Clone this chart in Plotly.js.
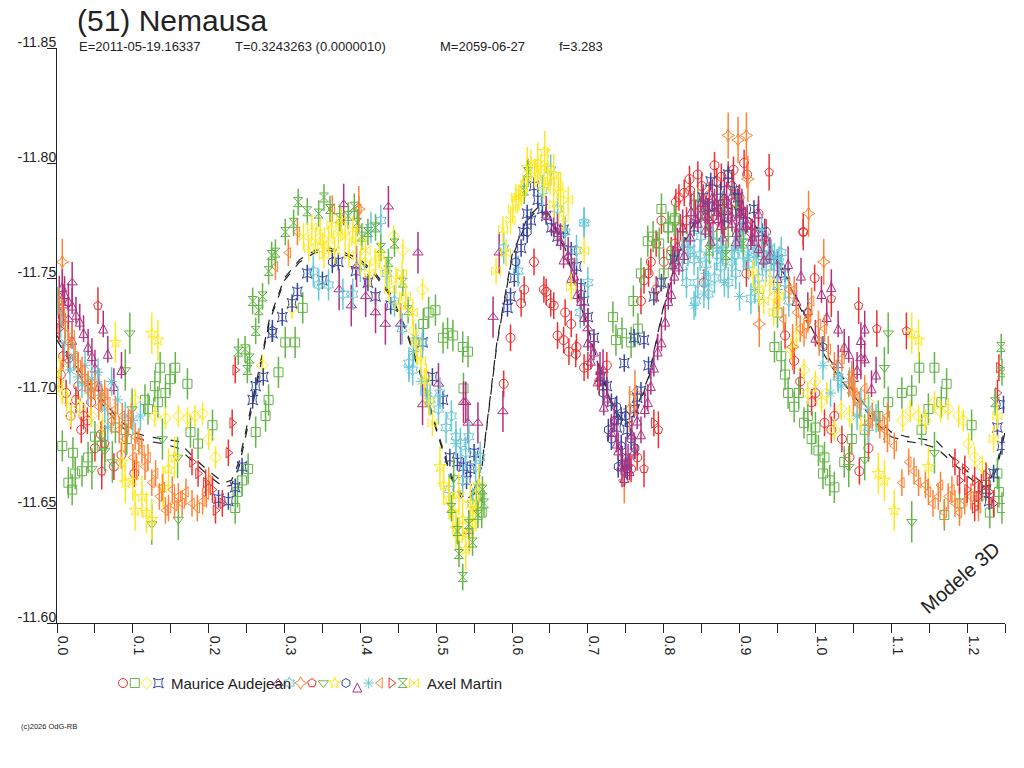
<!DOCTYPE html>
<html><head><meta charset="utf-8">
<script src="https://cdn.plot.ly/plotly-3.0.1.min.js"></script>
<style>html,body{margin:0;padding:0;background:#fff}#chart{width:1024px;height:768px}</style>
</head><body><div id="chart"></div>
<script>
// ---------- tick labels ----------
const X_TICKS = [0,0.05,0.1,0.15,0.2,0.25,0.3,0.35,0.4,0.45,0.5,0.55,0.6,0.65,0.7,0.75,0.8,0.85,0.9,0.95,1.0,1.05,1.1,1.15,1.2,1.25];
const X_TICK_TEXT = ['0.0','','0.1','','0.2','','0.3','','0.4','','0.5','','0.6','','0.7','','0.8','','0.9','','1.0','','1.1','','1.2',''];
const Y_TICKS = [-11.85,-11.80,-11.75,-11.70,-11.65,-11.60];
const Y_TICK_TEXT = ['-11.85','-11.80','-11.75','-11.70','-11.65','-11.60'];

// ---------- model (two dashed curves) ----------
const MODEL_X = [0.00,0.02,0.04,0.06,0.08,0.10,0.12,0.14,0.16,0.18,0.20,0.22,0.23,0.24,0.26,0.28,0.30,0.32,0.34,0.36,0.38,0.40,0.42,0.44,0.46,0.48,0.50,0.52,0.535,0.55,0.56,0.58,0.60,0.62,0.635,0.65,0.67,0.69,0.71,0.73,0.745,0.76,0.78,0.80,0.82,0.84,0.86,0.88,0.90,0.92,0.94,0.96,0.98,1.00,1.02,1.04,1.06,1.08,1.10,1.12,1.14,1.16,1.18,1.20,1.22,1.23,1.24,1.25];
const MODEL_A = [-11.725,-11.714,-11.705,-11.697,-11.689,-11.683,-11.681,-11.680,-11.679,-11.672,-11.666,-11.661,-11.662,-11.670,-11.700,-11.732,-11.750,-11.758,-11.762,-11.763,-11.761,-11.758,-11.752,-11.743,-11.728,-11.708,-11.685,-11.664,-11.655,-11.658,-11.668,-11.722,-11.760,-11.776,-11.781,-11.777,-11.763,-11.740,-11.717,-11.697,-11.688,-11.690,-11.707,-11.738,-11.762,-11.774,-11.780,-11.782,-11.780,-11.774,-11.764,-11.752,-11.738,-11.725,-11.714,-11.705,-11.697,-11.689,-11.683,-11.681,-11.680,-11.679,-11.672,-11.666,-11.661,-11.662,-11.670,-11.685];
const MODEL_B = [-11.723,-11.712,-11.703,-11.695,-11.687,-11.681,-11.679,-11.678,-11.676,-11.670,-11.664,-11.659,-11.660,-11.668,-11.698,-11.731,-11.749,-11.757,-11.761,-11.762,-11.760,-11.757,-11.751,-11.742,-11.727,-11.707,-11.684,-11.663,-11.653,-11.656,-11.667,-11.721,-11.759,-11.775,-11.780,-11.776,-11.762,-11.739,-11.716,-11.696,-11.686,-11.688,-11.706,-11.737,-11.761,-11.773,-11.779,-11.781,-11.779,-11.773,-11.763,-11.751,-11.737,-11.723,-11.712,-11.703,-11.695,-11.687,-11.681,-11.679,-11.678,-11.676,-11.670,-11.664,-11.659,-11.660,-11.668,-11.683];

// ---------- observations (phase, reduced magnitude) ----------
const S01_X = [0.005,0.012,0.018,0.025,0.032,0.040,0.050,0.058,0.075,0.085,0.102,0.645,0.655,0.660,0.670,0.675,0.685,0.700,0.715,0.725,0.770,0.780,0.790,0.800,0.810,0.830,0.840,0.850,0.860,0.870,0.875,0.885,0.895,0.905,0.915,0.930,0.972,0.995,1.012,1.025,1.021,1.058,
  0.008,0.015,0.028,0.035,0.045,0.589,0.598,0.612,0.629,0.616,0.642,0.651,0.668,0.684,0.695,0.678,0.757,0.765,0.815,0.822,0.835,0.845,0.855,0.865,0.880,0.890,0.900,0.910,0.925,0.935,0.960,0.980,1.000,1.035,1.045,1.070,
  0.834,0.820,0.827,0.797,0.816,0.867,0.876,0.892,0.906,0.783,0.790,0.774,0.853,0.909,0.984,0.999];
const S01_Y = [-11.708,-11.700,-11.690,-11.697,-11.684,-11.688,-11.676,-11.682,-11.668,-11.673,-11.665,-11.744,-11.738,-11.725,-11.735,-11.718,-11.720,-11.712,-11.705,-11.712,-11.740,-11.752,-11.745,-11.757,-11.762,-11.775,-11.782,-11.790,-11.786,-11.792,-11.780,-11.795,-11.783,-11.778,-11.770,-11.765,-11.714,-11.696,-11.687,-11.690,-11.684,-11.666,
  -11.716,-11.715,-11.703,-11.690,-11.696,-11.704,-11.724,-11.739,-11.757,-11.745,-11.745,-11.739,-11.723,-11.717,-11.711,-11.730,-11.667,-11.672,-11.765,-11.772,-11.788,-11.795,-11.780,-11.772,-11.773,-11.790,-11.785,-11.795,-11.778,-11.770,-11.725,-11.705,-11.700,-11.680,-11.672,-11.676,
  -11.793,-11.785,-11.787,-11.775,-11.783,-11.799,-11.794,-11.797,-11.800,-11.757,-11.765,-11.749,-11.748,-11.752,-11.770,-11.750];

const S02_X = [0.007,0.015,0.020,0.021,0.024,0.033,0.041,0.050,0.059,0.077,0.092,0.116,0.120,0.129,0.133,0.136,0.143,0.149,0.156,0.172,0.176,0.186,0.205,0.235,0.238,0.244,0.252,0.262,0.275,0.279,0.292,0.301,0.314,0.324,0.499,0.509,0.515,0.522,0.535,0.542,0.733,0.737,0.745,0.757,0.766,0.779,0.794,0.806,0.814,0.946,0.955,0.964,0.972,0.985,0.995,1.004,1.012,1.019,1.025,1.038,1.048,1.065,1.083,1.096,1.114,1.127,1.137,1.140,1.149,1.157,1.166,1.170,1.173,1.190,1.206,1.215,1.242,1.246,
  0.553,0.560,0.800,0.810,0.825,0.860,0.870,0.885,0.930,0.950,0.960,0.978,0.990,1.000,1.010,1.225,1.230,1.240,
  0.797,0.806,0.815,0.786,0.770,0.760,0.845,0.857,0.878,0.896,0.483,0.490,0.536];
const S02_Y = [-11.677,-11.661,-11.658,-11.674,-11.665,-11.666,-11.672,-11.681,-11.677,-11.685,-11.680,-11.697,-11.693,-11.703,-11.696,-11.711,-11.700,-11.706,-11.711,-11.704,-11.683,-11.678,-11.686,-11.650,-11.657,-11.662,-11.667,-11.683,-11.690,-11.697,-11.709,-11.722,-11.722,-11.737,-11.736,-11.724,-11.726,-11.725,-11.720,-11.718,-11.733,-11.723,-11.726,-11.722,-11.728,-11.766,-11.765,-11.772,-11.775,-11.720,-11.716,-11.700,-11.694,-11.687,-11.680,-11.675,-11.672,-11.662,-11.659,-11.670,-11.680,-11.684,-11.690,-11.696,-11.700,-11.701,-11.711,-11.684,-11.693,-11.711,-11.696,-11.647,-11.704,-11.652,-11.686,-11.655,-11.657,-11.650,
  -11.655,-11.648,-11.752,-11.760,-11.768,-11.770,-11.765,-11.770,-11.760,-11.735,-11.708,-11.700,-11.690,-11.685,-11.665,-11.660,-11.648,-11.665,
  -11.780,-11.772,-11.776,-11.768,-11.752,-11.740,-11.782,-11.777,-11.781,-11.779,-11.730,-11.735,-11.702];

const S03_X = [0.007,0.013,0.103,0.129,0.143,0.160,0.172,0.182,0.192,0.200,0.209,0.271,0.310,0.444,0.456,0.482,0.946,0.968,1.008,1.025,1.034,1.070,1.136,1.157,1.175,1.189,1.202,1.210,
  0.002,0.004,0.018,0.030,0.045,0.060,0.470,0.475,0.487,0.975,0.985,0.990,1.000,1.015,1.045,1.060,1.115,1.125,1.145,1.165,1.195,1.220];
const S03_Y = [-11.700,-11.697,-11.697,-11.690,-11.689,-11.690,-11.689,-11.690,-11.691,-11.680,-11.672,-11.712,-11.737,-11.768,-11.762,-11.745,-11.742,-11.719,-11.696,-11.684,-11.693,-11.696,-11.690,-11.696,-11.693,-11.690,-11.678,-11.672,
  -11.705,-11.712,-11.690,-11.694,-11.690,-11.686,-11.727,-11.717,-11.708,-11.725,-11.710,-11.700,-11.705,-11.700,-11.690,-11.688,-11.688,-11.692,-11.688,-11.692,-11.688,-11.668];

const S04_X = [0.213,0.226,0.235,0.244,0.258,0.262,0.272,0.284,0.297,0.310,0.317,0.371,0.394,0.482,0.495,0.509,0.528,0.536,0.550,0.594,0.598,0.612,0.625,0.629,0.634,0.668,0.678,0.691,0.700,0.708,0.717,0.731,0.744,0.748,0.761,0.761,0.770,0.774,0.787,0.797,0.814,0.859,0.893,0.919,1.229,1.246,
  0.330,0.350,0.410,0.420,0.440,0.518,0.540,0.545,0.603,0.615,0.620,0.640,0.645,0.652,0.660,0.685,0.695,0.725,0.738,0.752,0.765,0.780,0.840,0.870,0.880,0.905,0.930,0.950,0.960,1.225,1.235,1.240,1.248,
  0.862,0.875,0.885,0.852,0.898,0.900];
const S04_Y = [-11.654,-11.653,-11.659,-11.668,-11.697,-11.703,-11.707,-11.726,-11.733,-11.739,-11.744,-11.757,-11.753,-11.722,-11.707,-11.697,-11.670,-11.668,-11.674,-11.737,-11.742,-11.763,-11.775,-11.790,-11.784,-11.771,-11.762,-11.746,-11.733,-11.724,-11.707,-11.696,-11.690,-11.713,-11.693,-11.724,-11.701,-11.723,-11.742,-11.748,-11.758,-11.781,-11.788,-11.780,-11.653,-11.677,
  -11.752,-11.749,-11.748,-11.742,-11.738,-11.672,-11.662,-11.667,-11.750,-11.770,-11.778,-11.780,-11.777,-11.772,-11.768,-11.755,-11.740,-11.703,-11.685,-11.684,-11.698,-11.712,-11.772,-11.782,-11.776,-11.772,-11.770,-11.758,-11.752,-11.658,-11.665,-11.685,-11.695,
  -11.792,-11.788,-11.795,-11.785,-11.785,-11.778];

const S05_X = [0.003,0.008,0.015,0.020,0.378,0.407,0.420,0.433,0.437,0.453,0.476,0.482,0.503,0.539,0.575,0.583,0.588,0.700,0.720,0.745,0.750,0.860,0.880,0.900,1.030,1.050,1.060,0.395,0.372,0.388,0.543,0.555,0.542,0.536];
const S05_Y = [-11.742,-11.738,-11.732,-11.748,-11.782,-11.742,-11.735,-11.730,-11.781,-11.730,-11.761,-11.695,-11.704,-11.696,-11.733,-11.761,-11.692,-11.728,-11.710,-11.668,-11.672,-11.775,-11.785,-11.772,-11.712,-11.706,-11.715,-11.755,-11.745,-11.738,-11.640,-11.687,-11.687,-11.696];

const S06_X = [0.338,0.345,0.358,0.377,0.390,0.414,0.427,0.464,0.469,0.482,0.503,0.513,0.517,0.526,0.539,0.543,0.548,0.556,0.589,0.608,0.651,0.695,0.700,0.832,0.849,0.859,0.867,0.885,0.902,0.915,0.919,0.938,0.955,1.030,1.070,
  0.400,0.435,0.445,0.455,0.492,0.505,0.520,0.532,0.552,0.558,0.535,0.640,0.660,0.670,0.685,0.690,0.825,0.840,0.845,0.870,0.875,0.895,0.905,0.925,0.930,0.945,0.960,0.965,
  0.825,0.835,0.848,0.856,0.865,0.878,0.890,0.898,0.912,0.922,0.935,0.942,0.952,0.830,0.842,0.925];
const S06_Y = [-11.753,-11.747,-11.747,-11.743,-11.743,-11.772,-11.775,-11.713,-11.710,-11.722,-11.693,-11.685,-11.658,-11.681,-11.674,-11.681,-11.652,-11.659,-11.763,-11.753,-11.797,-11.774,-11.748,-11.762,-11.768,-11.743,-11.750,-11.748,-11.768,-11.741,-11.761,-11.763,-11.761,-11.707,-11.685,
  -11.755,-11.752,-11.740,-11.728,-11.697,-11.700,-11.690,-11.678,-11.668,-11.672,-11.662,-11.788,-11.780,-11.770,-11.762,-11.735,-11.755,-11.758,-11.748,-11.760,-11.755,-11.752,-11.760,-11.750,-11.758,-11.752,-11.748,-11.740,
  -11.762,-11.765,-11.760,-11.756,-11.766,-11.762,-11.757,-11.765,-11.756,-11.762,-11.755,-11.760,-11.757,-11.748,-11.740,-11.742];

const S07_X = [0.007,0.398,0.885,0.898,0.909,0.911,0.926,0.970,0.991,1.011,1.050,0.755,0.762,0.748];
const S07_Y = [-11.757,-11.780,-11.812,-11.810,-11.812,-11.793,-11.730,-11.720,-11.778,-11.757,-11.700,-11.693,-11.700,-11.662];

const S08_X = [0.054,0.059,0.063,0.774,0.793,0.939,0.984,1.021,1.057,1.081,1.120];
const S08_Y = [-11.738,-11.666,-11.678,-11.667,-11.684,-11.796,-11.770,-11.741,-11.738,-11.728,-11.727];

const S09_X = [0.046,0.063,0.073,0.090,0.096,0.099,0.125,0.139,0.159,0.160,0.523,1.044,1.065,1.091,1.096,1.127,1.157];
const S09_Y = [-11.667,-11.675,-11.670,-11.710,-11.726,-11.693,-11.643,-11.680,-11.672,-11.645,-11.663,-11.668,-11.671,-11.711,-11.726,-11.644,-11.674];

const S10_X = [0.077,0.086,0.090,0.103,0.125,0.125,0.133,0.147,0.517,0.530,0.535,0.539,0.543,0.552,0.634,0.647,0.664,1.083,1.091,1.104,1.127,1.136,1.149,
  0.100,0.112,0.118,0.140,0.155,0.505,0.510,0.522,0.526,0.545,0.548,0.556,0.530,0.620,0.643,0.655];
const S10_Y = [-11.722,-11.670,-11.661,-11.649,-11.726,-11.645,-11.723,-11.667,-11.654,-11.637,-11.645,-11.632,-11.639,-11.649,-11.800,-11.798,-11.787,-11.665,-11.662,-11.649,-11.726,-11.723,-11.668,
  -11.662,-11.655,-11.648,-11.659,-11.672,-11.668,-11.660,-11.648,-11.641,-11.652,-11.643,-11.660,-11.656,-11.798,-11.805,-11.795];

const S11_X = [0.284,0.363,0.605,0.620,0.727,0.731,0.744,0.745,0.750,0.757,0.990,1.010,0.720,0.735,0.740,0.752,0.762,0.738];
const S11_Y = [-11.727,-11.757,-11.757,-11.770,-11.684,-11.680,-11.677,-11.672,-11.690,-11.680,-11.735,-11.720,-11.700,-11.688,-11.668,-11.667,-11.676,-11.694];

const S12_X = [0.007,0.015,0.025,0.035,0.041,0.046,0.061,0.067,0.655,0.664,0.674,0.682,0.691,0.700,0.704,0.713,0.721,0.731,0.740,0.744,0.753,0.761,0.770,0.779,0.787,0.797,0.806,0.814,0.827,0.849,0.867,0.885,0.902,0.925,0.933,0.964,0.981,1.008,1.021,1.030,1.044,1.065,1.065,1.074,
  0.002,0.010,0.020,0.030,0.050,0.055,0.075,0.085,0.020,0.645,0.660,0.668,0.678,0.686,0.695,0.708,0.716,0.726,0.735,0.738,0.748,0.755,0.758,0.765,0.775,0.783,0.792,0.802,0.810,0.820,0.835,0.842,0.855,0.862,0.872,0.878,0.890,0.895,0.908,0.915,0.920,0.940,0.950,0.975,0.990,1.000,1.015,1.038,1.055,1.060,1.080,
  0.836,0.845,0.852,0.858,0.864,0.870,0.876,0.883,0.889,0.896,0.903,0.910,0.917,0.925,0.932,0.825,0.818,0.812];
const S12_Y = [-11.748,-11.742,-11.736,-11.728,-11.722,-11.718,-11.730,-11.719,-11.774,-11.768,-11.762,-11.753,-11.742,-11.724,-11.716,-11.707,-11.696,-11.685,-11.677,-11.670,-11.672,-11.677,-11.684,-11.698,-11.713,-11.724,-11.742,-11.753,-11.762,-11.780,-11.783,-11.780,-11.781,-11.780,-11.770,-11.758,-11.753,-11.745,-11.748,-11.730,-11.719,-11.717,-11.730,-11.704,
  -11.738,-11.745,-11.740,-11.733,-11.713,-11.705,-11.705,-11.712,-11.725,-11.780,-11.772,-11.760,-11.752,-11.745,-11.735,-11.720,-11.712,-11.700,-11.690,-11.680,-11.665,-11.668,-11.684,-11.690,-11.695,-11.705,-11.720,-11.733,-11.745,-11.757,-11.770,-11.778,-11.773,-11.768,-11.778,-11.770,-11.776,-11.768,-11.775,-11.768,-11.772,-11.762,-11.752,-11.742,-11.738,-11.726,-11.735,-11.722,-11.712,-11.725,-11.710,
  -11.781,-11.776,-11.785,-11.779,-11.787,-11.781,-11.775,-11.786,-11.779,-11.772,-11.783,-11.776,-11.770,-11.765,-11.760,-11.774,-11.766,-11.758];

const S13_X = [0.001,0.017,0.028,0.033,0.041,0.054,0.063,0.067,0.464,0.473,0.526,0.695,0.853,0.859,0.876,0.893,0.911,0.929,0.946,1.030,1.034,1.070,
  0.005,0.010,0.022,0.037,0.046,0.058,0.072,0.080,0.090,0.100,0.110,0.470,0.480,0.488,0.840,0.855,0.880,0.900,0.920,0.950,1.010,1.020,1.045,1.055,1.060,1.080];
const S13_Y = [-11.740,-11.710,-11.707,-11.704,-11.701,-11.709,-11.693,-11.685,-11.711,-11.724,-11.678,-11.774,-11.743,-11.747,-11.763,-11.762,-11.759,-11.771,-11.759,-11.707,-11.703,-11.693,
  -11.730,-11.722,-11.716,-11.712,-11.706,-11.699,-11.705,-11.697,-11.690,-11.688,-11.690,-11.718,-11.705,-11.700,-11.738,-11.752,-11.748,-11.742,-11.745,-11.745,-11.712,-11.700,-11.705,-11.690,-11.696,-11.689];

const S14_X = [0.007,0.011,0.015,0.024,0.033,0.041,0.050,0.059,0.067,0.077,0.086,0.094,0.103,0.112,0.116,0.125,0.139,0.143,0.147,0.152,0.160,0.165,0.178,0.192,0.288,0.305,0.317,0.363,0.398,0.991,1.004,1.017,1.044,1.052,1.070,1.091,1.104,1.114,1.123,1.136,1.149,1.162,1.170,1.175,1.184,1.197,
  0.003,0.020,0.028,0.037,0.045,0.055,0.063,0.072,0.082,0.090,0.098,0.100,0.105,0.108,0.120,0.130,0.135,0.155,0.170,0.185,0.197,0.200,0.965,0.975,0.985,0.995,1.005,1.012,1.025,1.035,1.048,1.058,1.065,1.075,1.085,1.095,1.095,1.130,1.145,1.155,1.165,1.180,1.190,1.205,1.215,
  0.950,0.958,0.972,0.980,0.990];
const S14_Y = [-11.735,-11.729,-11.722,-11.716,-11.710,-11.704,-11.703,-11.698,-11.696,-11.693,-11.690,-11.687,-11.681,-11.675,-11.668,-11.661,-11.659,-11.649,-11.650,-11.658,-11.655,-11.652,-11.652,-11.653,-11.755,-11.761,-11.770,-11.780,-11.780,-11.733,-11.730,-11.719,-11.704,-11.700,-11.687,-11.684,-11.677,-11.661,-11.670,-11.661,-11.657,-11.655,-11.648,-11.655,-11.652,-11.653,
  -11.740,-11.725,-11.712,-11.706,-11.700,-11.694,-11.700,-11.688,-11.684,-11.680,-11.690,-11.672,-11.668,-11.679,-11.672,-11.665,-11.655,-11.651,-11.657,-11.650,-11.656,-11.662,-11.745,-11.735,-11.726,-11.740,-11.722,-11.728,-11.712,-11.715,-11.708,-11.695,-11.702,-11.690,-11.686,-11.680,-11.690,-11.666,-11.660,-11.652,-11.660,-11.658,-11.648,-11.655,-11.650,
  -11.740,-11.732,-11.745,-11.728,-11.732];

const S15_X = [0.003,0.178,0.186,0.196,0.205,0.209,0.218,0.226,0.231,0.235,0.787,1.184,1.197,1.210,1.210,1.219,1.229,1.242,1.190,1.200,1.215,1.225,1.235,1.240];
const S15_Y = [-11.728,-11.670,-11.665,-11.661,-11.658,-11.649,-11.652,-11.674,-11.687,-11.710,-11.687,-11.670,-11.667,-11.662,-11.650,-11.659,-11.657,-11.711,-11.662,-11.658,-11.655,-11.664,-11.652,-11.700];

const S16_X = [0.239,0.248,0.251,0.266,0.271,0.279,0.288,0.301,0.312,0.345,0.384,0.396,0.420,0.427,0.530,0.535,0.543,0.561,0.563,0.616,0.621,1.237,1.246,
  0.318,0.330,0.352,0.360,0.373,0.392,0.402,0.410,0.437,0.445,0.456,0.463,0.258,0.262,0.254,0.283,0.520,0.528,0.548,0.555,0.860,0.882,0.905,1.245];
const S16_Y = [-11.718,-11.719,-11.710,-11.736,-11.742,-11.753,-11.761,-11.770,-11.774,-11.778,-11.777,-11.774,-11.772,-11.763,-11.630,-11.620,-11.643,-11.658,-11.652,-11.788,-11.796,-11.696,-11.709,
  -11.783,-11.779,-11.785,-11.780,-11.776,-11.781,-11.768,-11.770,-11.757,-11.765,-11.748,-11.736,-11.740,-11.727,-11.715,-11.760,-11.650,-11.640,-11.635,-11.647,-11.762,-11.760,-11.765,-11.720];

const S17_X = [0.332,0.341,0.350,0.358,0.371,0.380,0.394,0.407,0.420,0.433,0.447,0.460,0.469,0.473,0.480,0.490,0.495,0.579,0.588,0.592,0.601,0.609,0.612,0.638,0.661,0.674,0.678,0.695,1.235,1.240,
  0.325,0.336,0.347,0.352,0.362,0.366,0.375,0.385,0.390,0.400,0.412,0.425,0.438,0.452,0.455,0.485,0.598,0.605,0.620,0.625,0.630,0.642,0.650,0.655,0.668,
  0.918,0.925,0.932,0.940,0.945,0.952];
const S17_Y = [-11.763,-11.766,-11.764,-11.767,-11.769,-11.768,-11.766,-11.762,-11.757,-11.753,-11.749,-11.742,-11.735,-11.722,-11.714,-11.696,-11.687,-11.753,-11.771,-11.761,-11.780,-11.785,-11.787,-11.798,-11.790,-11.784,-11.746,-11.762,-11.680,-11.690,
  -11.768,-11.772,-11.770,-11.760,-11.773,-11.762,-11.775,-11.760,-11.771,-11.757,-11.752,-11.760,-11.745,-11.738,-11.752,-11.705,-11.775,-11.785,-11.793,-11.800,-11.795,-11.790,-11.792,-11.782,-11.776,
  -11.752,-11.745,-11.740,-11.748,-11.735,-11.742];

// observer groups (legend text)
const OBSERVERS = ['Maurice Audejean','Axel Martin'];

// ---------- styling ----------
const FONT = 'Liberation Sans, Arial, sans-serif';
const RED='#ee2f2f', GREEN='#62b546', YELLOW='#ffe81a', BLUE='#35459e', PURPLE='#b0307f', CYAN='#67c8d8', ORANGE='#ff8232';
const SERIES = [
  {x:S01_X,y:S01_Y,sym:'circle-open',c:RED,e:0.0058,g:0},
  {x:S02_X,y:S02_Y,sym:'square-open',c:GREEN,e:0.0068,g:0},
  {x:S03_X,y:S03_Y,sym:'diamond-open',c:YELLOW,e:0.0048,g:0},
  {x:S04_X,y:S04_Y,sym:'star-square-open',c:BLUE,e:0.0038,g:0},
  {x:S05_X,y:S05_Y,sym:'triangle-up-open',c:PURPLE,e:0.009,g:1},
  {x:S06_X,y:S06_Y,sym:'hexagram-open',c:CYAN,e:0.0068,g:1},
  {x:S07_X,y:S07_Y,sym:'star-diamond-open',c:ORANGE,e:0.010,g:1},
  {x:S08_X,y:S08_Y,sym:'pentagon-open',c:RED,e:0.008,g:1},
  {x:S09_X,y:S09_Y,sym:'triangle-down-open',c:GREEN,e:0.009,g:1},
  {x:S10_X,y:S10_Y,sym:'star-open',c:YELLOW,e:0.009,g:1},
  {x:S11_X,y:S11_Y,sym:'hexagon-open',c:BLUE,e:0.0048,g:1},
  {x:S12_X,y:S12_Y,sym:'arrow-up-open',c:PURPLE,e:0.0058,g:1},
  {x:S13_X,y:S13_Y,sym:'asterisk-open',c:CYAN,e:0.0062,g:1},
  {x:S14_X,y:S14_Y,sym:'triangle-left-open',c:ORANGE,e:0.0058,g:1},
  {x:S15_X,y:S15_Y,sym:'triangle-right-open',c:RED,e:0.0058,g:1},
  {x:S16_X,y:S16_Y,sym:'hourglass-open',c:GREEN,e:0.0058,g:1},
  {x:S17_X,y:S17_Y,sym:'bowtie-open',c:YELLOW,e:0.0058,g:1}
];

const traces = [];
traces.push({x:MODEL_X,y:MODEL_A,mode:'lines',line:{color:'#222',width:1.2,dash:'dash'},hoverinfo:'skip'});
traces.push({x:MODEL_X,y:MODEL_B,mode:'lines',line:{color:'#222',width:1.2,dash:'dash'},hoverinfo:'skip'});
SERIES.forEach(s=>{
  traces.push({x:s.x,y:s.y,mode:'markers',type:'scatter',
    marker:{symbol:s.sym,size:9,color:s.c,line:{color:s.c,width:1}},
    error_y:{type:'constant',value:s.e,thickness:1.5,width:0,color:s.c}});
});

// hand-made legend row on a hidden axis (pixel-like units)
const LEG_A0=123, LEG_A_STEP=11.8, LEG_B0=278, LEG_B_STEP=11.33;
let ia=0, ib=0;
SERIES.forEach(s=>{
  const lx = s.g===0 ? LEG_A0+LEG_A_STEP*(ia++) : LEG_B0+LEG_B_STEP*(ib++);
  traces.push({x:[lx],y:[0.5],xaxis:'x2',yaxis:'y2',mode:'markers',
    marker:{symbol:s.sym,size:9,color:s.c,line:{color:s.c,width:1}},hoverinfo:'skip'});
});

const PX = p => (p-57)/948;
const PY = p => (700-p)/652;

const layout = {
  width:1024,height:768,
  margin:{l:57,r:19,t:48,b:68,pad:0},
  paper_bgcolor:'#fff',plot_bgcolor:'#fff',
  showlegend:false,hovermode:false,
  font:{family:FONT,color:'#222',size:14},
  title:{text:'(51) Nemausa',xref:'container',yref:'container',x:77/1024,xanchor:'left',y:1-20/768,yanchor:'middle',
         font:{family:FONT,size:30,color:'#222'}},
  xaxis:{domain:[0,1],anchor:'y',range:[0,1.25],tickmode:'array',tickvals:X_TICKS,ticktext:X_TICK_TEXT,tickangle:90,
         ticks:'outside',ticklen:9,tickwidth:1,tickcolor:'#222',showline:true,linecolor:'#222',linewidth:1,
         showgrid:false,zeroline:false,ticklabelshift:6,tickfont:{family:FONT,size:14,color:'#222'}},
  yaxis:{domain:[77/652,1],anchor:'x',range:[-11.60,-11.85],tickmode:'array',tickvals:Y_TICKS,ticktext:Y_TICK_TEXT,
         ticks:'outside',ticklen:9,tickwidth:1,tickcolor:'#222',showline:true,linecolor:'#222',linewidth:1,
         showgrid:false,zeroline:false,ticklabelstandoff:-12,ticklabelshift:6,tickfont:{family:FONT,size:14,color:'#222'}},
  xaxis2:{domain:[0,1],anchor:'y2',range:[57,1005],visible:false,fixedrange:true},
  yaxis2:{domain:[0.006,0.046],anchor:'x2',range:[0,1],visible:false,fixedrange:true},
  annotations:[
    {xref:'paper',yref:'paper',x:PX(77),y:PY(47),xanchor:'left',yanchor:'middle',showarrow:false,text:'E=2011-05-19.16337',font:{size:13}},
    {xref:'paper',yref:'paper',x:PX(233),y:PY(47),xanchor:'left',yanchor:'middle',showarrow:false,text:'T=0.3243263 (0.0000010)',font:{size:13}},
    {xref:'paper',yref:'paper',x:PX(438),y:PY(47),xanchor:'left',yanchor:'middle',showarrow:false,text:'M=2059-06-27',font:{size:13}},
    {xref:'paper',yref:'paper',x:PX(557),y:PY(47),xanchor:'left',yanchor:'middle',showarrow:false,text:'f=3.283',font:{size:13}},
    {xref:'x2',yref:'y2',x:169,y:0.5,xanchor:'left',yanchor:'middle',showarrow:false,text:OBSERVERS[0],font:{size:15}},
    {xref:'x2',yref:'y2',x:425,y:0.5,xanchor:'left',yanchor:'middle',showarrow:false,text:OBSERVERS[1],font:{size:15}},
    {xref:'paper',yref:'paper',x:PX(19),y:PY(726),xanchor:'left',yanchor:'middle',showarrow:false,text:'(c)2026 OdG-RB',font:{size:7.5}},
    {xref:'paper',yref:'paper',x:PX(960),y:PY(578),xanchor:'center',yanchor:'middle',showarrow:false,text:'Modele 3D',textangle:-41,font:{size:20}}
  ]
};

Plotly.newPlot('chart',traces,layout,{staticPlot:true,displayModeBar:false});
</script></body></html>
